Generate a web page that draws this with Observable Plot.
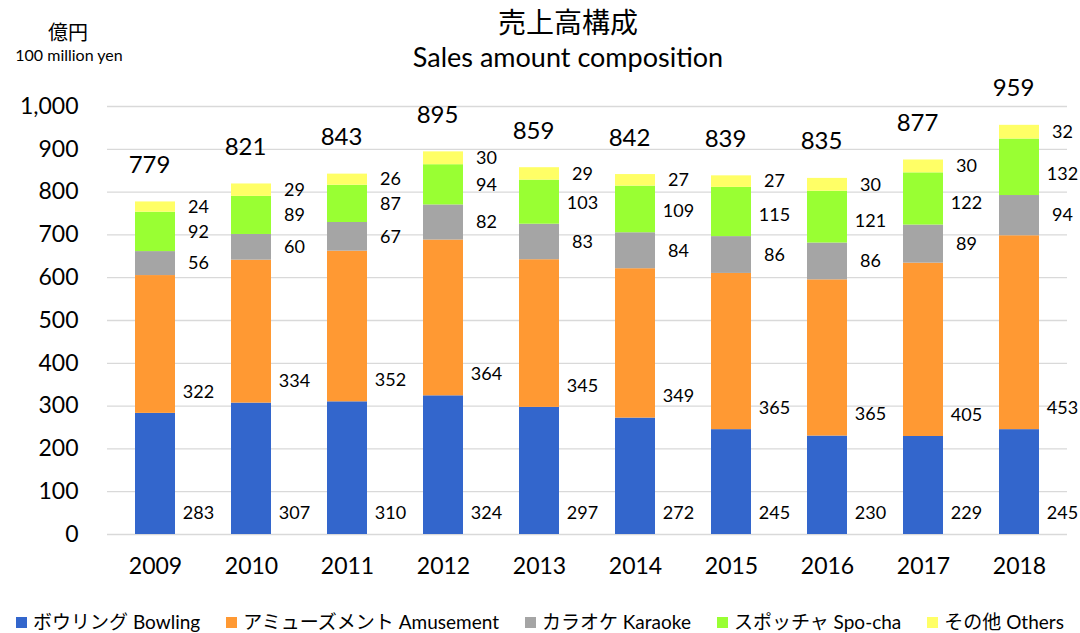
<!DOCTYPE html>
<html><head><meta charset="utf-8">
<script src="https://cdn.jsdelivr.net/npm/d3@7"></script>
<script src="https://cdn.jsdelivr.net/npm/@observablehq/plot@0.6"></script>
<style>
body{margin:0;background:#fff;font-family:Lato,"Noto Sans CJK JP",sans-serif;color:#000;}
#wrap{position:relative;width:1080px;height:633px;overflow:hidden;}
#chart svg{overflow:visible;}
.t{position:absolute;white-space:nowrap;transform:translate(-50%,-50%);}
#legend{position:absolute;left:0;width:1080px;top:610px;display:flex;justify-content:center;gap:26px;font-size:19px;line-height:24px;}
#legend span.sw{display:inline-block;width:11px;height:11px;margin-right:6px;vertical-align:1px;}
</style></head>
<body><div id="wrap">
<div id="chart"></div>
<div class="t" style="left:568px;top:21px;font-size:28px;">売上高構成</div>
<div class="t" style="left:568px;top:56px;font-size:27px;">Sales amount composition</div>
<div class="t" style="left:68px;top:31px;font-size:20px;">億円</div>
<div class="t" style="left:69px;top:54px;font-size:16px;">100 million yen</div>
<div id="legend"></div>
</div>
<script>
const years = ["2009","2010","2011","2012","2013","2014","2015","2016","2017","2018"];
const bowling   = [283,307,310,324,297,272,245,230,229,245];
const amusement = [322,334,352,364,345,349,365,365,405,453];
const karaoke   = [56,60,67,82,83,84,86,86,89,94];
const spocha    = [92,89,87,94,103,109,115,121,122,132];
const others    = [24,29,26,30,29,27,27,30,30,32];
const totals    = [779,821,843,895,859,842,839,835,877,959];
const seriesNames = ["ボウリング Bowling","アミューズメント Amusement","カラオケ Karaoke","スポッチャ Spo-cha","その他 Others"];
const seriesColors = ["#3366CC","#FF9933","#A5A5A5","#99FF33","#FFFF66"];
const seriesValues = [bowling, amusement, karaoke, spocha, others];

const rows = [];
years.forEach((yr, i) => {
  let base = 0;
  seriesValues.forEach((vals, s) => {
    const v = vals[i];
    rows.push({year: yr, series: seriesNames[s], value: v, y1: base, y2: base + v,
               ly: Math.min(base + v / 2, base + 50)});
    base += v;
  });
});
const totalRows = years.map((yr, i) => ({year: yr, total: totals[i]}));

const chart = Plot.plot({
  width: 1080, height: 633,
  marginTop: 106, marginBottom: 99, marginLeft: 107, marginRight: 13,
  style: {fontFamily: 'Lato,"Noto Sans CJK JP",sans-serif', fontSize: "23px", color: "#000", background: "transparent"},
  x: {domain: years, paddingInner: 0.583, paddingOuter: 0.2915, label: null, tickSize: 0, tickPadding: 23},
  y: {domain: [0, 1000], ticks: d3.range(0, 1001, 100), label: null, tickSize: 0, tickPadding: 29, tickFormat: d3.format(",")},
  color: {domain: seriesNames, range: seriesColors},
  marks: [
    Plot.gridY(d3.range(0, 1001, 100), {stroke: "#D9D9D9", strokeOpacity: 1, strokeWidth: 1.3}),
    Plot.barY(rows, {x: "year", y1: "y1", y2: "y2", fill: "series"}),
    Plot.text(rows, {x: "year", y: "ly", text: d => String(d.value), dx: 43, fontSize: 18, fill: "#000"}),
    Plot.text(totalRows, {x: "year", y: "total", text: d => String(d.total), dy: -36, dx: -6, fontSize: 24, fill: "#000"})
  ]
});
document.getElementById("chart").appendChild(chart);

const lg = document.getElementById("legend");
seriesNames.forEach((n, i) => {
  const d = document.createElement("div");
  d.innerHTML = `<span class="sw" style="background:${seriesColors[i]}"></span>${n}`;
  lg.appendChild(d);
});
</script>
</body></html>
